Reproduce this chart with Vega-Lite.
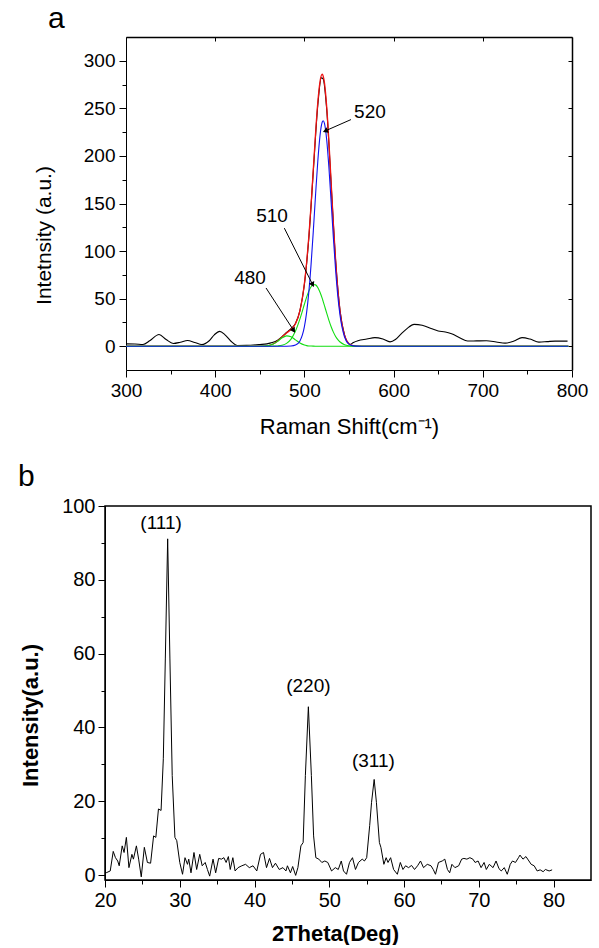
{
  "$schema": "https://vega.github.io/schema/vega-lite/v6.json",
  "padding": {"left": 17, "top": 3, "right": 0, "bottom": 0},
  "background": "white",
  "config": {
    "font": "Liberation Sans",
    "view": {"stroke": "#000", "strokeWidth": 1.5},
    "axis": {"grid": false, "domainColor": "#000", "tickColor": "#000", "labelColor": "#000", "titleColor": "#000", "labelFont": "Liberation Sans", "titleFont": "Liberation Sans", "domainWidth": 1, "tickWidth": 1},
    "title": {"font": "Liberation Sans", "color": "#000"}
  },
  "datasets": {
    "raman_exp": [
      {"shift": 300, "intensity": 2.5}, {"shift": 310, "intensity": 2.4}, {"shift": 319, "intensity": 1.8}, {"shift": 327, "intensity": 6}, {"shift": 337, "intensity": 12.3}, {"shift": 345, "intensity": 7}, {"shift": 353, "intensity": 2.9}, {"shift": 361, "intensity": 4.2}, {"shift": 369, "intensity": 6}, {"shift": 377, "intensity": 4}, {"shift": 385, "intensity": 1.8}, {"shift": 393, "intensity": 5.5}, {"shift": 399, "intensity": 12}, {"shift": 405, "intensity": 15.6}, {"shift": 411, "intensity": 12}, {"shift": 418, "intensity": 5}, {"shift": 425, "intensity": 0.8}, {"shift": 435, "intensity": 0.9}, {"shift": 450, "intensity": 1.8}, {"shift": 458, "intensity": 2.5}, {"shift": 464, "intensity": 3.8}, {"shift": 470, "intensity": 6.3}, {"shift": 475, "intensity": 10}, {"shift": 480, "intensity": 14.5}, {"shift": 485, "intensity": 18.5}, {"shift": 490, "intensity": 24}, {"shift": 495, "intensity": 37.5}, {"shift": 500, "intensity": 65}, {"shift": 505, "intensity": 114}, {"shift": 510, "intensity": 184}, {"shift": 515, "intensity": 253}, {"shift": 519, "intensity": 282}, {"shift": 521, "intensity": 281}, {"shift": 525, "intensity": 249}, {"shift": 530, "intensity": 170}, {"shift": 535, "intensity": 90}, {"shift": 540, "intensity": 37}, {"shift": 545, "intensity": 12}, {"shift": 548, "intensity": 4.5}, {"shift": 551, "intensity": 1.8}, {"shift": 555, "intensity": 4}, {"shift": 560, "intensity": 5.8}, {"shift": 570, "intensity": 7.5}, {"shift": 579, "intensity": 9}, {"shift": 588, "intensity": 7.5}, {"shift": 596, "intensity": 4.6}, {"shift": 602, "intensity": 7}, {"shift": 608, "intensity": 12.5}, {"shift": 615, "intensity": 18.5}, {"shift": 623, "intensity": 23}, {"shift": 632, "intensity": 22}, {"shift": 642, "intensity": 18.6}, {"shift": 650, "intensity": 16}, {"shift": 658, "intensity": 15}, {"shift": 665, "intensity": 13}, {"shift": 674, "intensity": 9}, {"shift": 683, "intensity": 5.5}, {"shift": 693, "intensity": 5.6}, {"shift": 704, "intensity": 5.7}, {"shift": 715, "intensity": 4.5}, {"shift": 725, "intensity": 3.2}, {"shift": 735, "intensity": 5.5}, {"shift": 744, "intensity": 9}, {"shift": 753, "intensity": 7.5}, {"shift": 763, "intensity": 4.3}, {"shift": 772, "intensity": 4.8}, {"shift": 781, "intensity": 5.4}, {"shift": 795, "intensity": 5.4}
    ],
    "raman_fit": [
      {"shift": 300, "total": 0, "g480": 0, "g510": 0, "g520": 0},
      {"shift": 440, "total": 0, "g480": 0, "g510": 0, "g520": 0},
      {"shift": 450, "total": 0.03, "g480": 0.03, "g510": 0, "g520": 0},
      {"shift": 455, "total": 0.17, "g480": 0.17, "g510": 0, "g520": 0},
      {"shift": 460, "total": 0.74, "g480": 0.72, "g510": 0.02, "g520": 0},
      {"shift": 465, "total": 2.35, "g480": 2.27, "g510": 0.08, "g520": 0},
      {"shift": 470, "total": 5.5, "g480": 5.2, "g510": 0.3, "g520": 0},
      {"shift": 475, "total": 9.8, "g480": 8.8, "g510": 1.0, "g520": 0},
      {"shift": 480, "total": 14.0, "g480": 10.9, "g510": 3.0, "g520": 0.02},
      {"shift": 485, "total": 17.6, "g480": 10.0, "g510": 7.5, "g520": 0.2},
      {"shift": 490, "total": 23.7, "g480": 6.7, "g510": 15.9, "g520": 1.2},
      {"shift": 495, "total": 37.5, "g480": 3.3, "g510": 28.7, "g520": 5.6},
      {"shift": 500, "total": 65.9, "g480": 1.2, "g510": 44.1, "g520": 20.6},
      {"shift": 502.5, "total": 87.8, "g480": 0.6, "g510": 51.6, "g520": 35.6},
      {"shift": 505, "total": 115.6, "g480": 0.3, "g510": 57.9, "g520": 57.4},
      {"shift": 507.5, "total": 149, "g480": 0.15, "g510": 62.5, "g520": 86.3},
      {"shift": 510, "total": 186.1, "g480": 0.06, "g510": 64.8, "g520": 121.2},
      {"shift": 512.5, "total": 223.4, "g480": 0.02, "g510": 64.5, "g520": 158.9},
      {"shift": 515, "total": 256, "g480": 0, "g510": 61.8, "g520": 194.2},
      {"shift": 517.5, "total": 278.2, "g480": 0, "g510": 56.8, "g520": 221.4},
      {"shift": 520, "total": 285.9, "g480": 0, "g510": 50.2, "g520": 235.7},
      {"shift": 521, "total": 284.2, "g480": 0, "g510": 47.2, "g520": 237},
      {"shift": 522.5, "total": 276.7, "g480": 0, "g510": 42.6, "g520": 234.1},
      {"shift": 525, "total": 251.6, "g480": 0, "g510": 34.7, "g520": 216.9},
      {"shift": 527.5, "total": 214.7, "g480": 0, "g510": 27.2, "g520": 187.5},
      {"shift": 530, "total": 171.8, "g480": 0, "g510": 20.5, "g520": 151.3},
      {"shift": 532.5, "total": 128.6, "g480": 0, "g510": 14.8, "g520": 113.8},
      {"shift": 535, "total": 90.3, "g480": 0, "g510": 10.3, "g520": 80.0},
      {"shift": 537.5, "total": 59.3, "g480": 0, "g510": 6.9, "g520": 52.4},
      {"shift": 540, "total": 36.5, "g480": 0, "g510": 4.4, "g520": 32.1},
      {"shift": 545, "total": 11.4, "g480": 0, "g510": 1.6, "g520": 9.7},
      {"shift": 550, "total": 2.7, "g480": 0, "g510": 0.5, "g520": 2.2},
      {"shift": 555, "total": 0.5, "g480": 0, "g510": 0.1, "g520": 0.4},
      {"shift": 560, "total": 0.1, "g480": 0, "g510": 0.03, "g520": 0.05},
      {"shift": 570, "total": 0, "g480": 0, "g510": 0, "g520": 0},
      {"shift": 796, "total": 0, "g480": 0, "g510": 0, "g520": 0}
    ],
    "raman_notes": [
      {"label": "480", "tx": 439, "ty": 71.9, "x1": 457, "y1": 61.2, "x2": 488, "y2": 16.5},
      {"label": "510", "tx": 463.7, "ty": 136.4, "x1": 477.5, "y1": 124.1, "x2": 509.3, "y2": 64.7},
      {"label": "520", "tx": 573.5, "ty": 246.1, "x1": 552.2, "y1": 238.2, "x2": 523.4, "y2": 226.3}
    ],
    "xrd": [
      {"tt": 20.15, "i": 0.6}, {"tt": 20.7, "i": 1.1}, {"tt": 21.1, "i": 6.4}, {"tt": 21.4, "i": 4.7}, {"tt": 21.7, "i": 3.8}, {"tt": 21.9, "i": 2.5}, {"tt": 22.3, "i": 7.9}, {"tt": 22.55, "i": 6.1}, {"tt": 22.86, "i": 10.2}, {"tt": 23.2, "i": 2.0}, {"tt": 23.6, "i": 5.6}, {"tt": 23.8, "i": 4.3}, {"tt": 24.2, "i": 7.9}, {"tt": 24.5, "i": 4.3}, {"tt": 24.85, "i": -0.5}, {"tt": 25.26, "i": 7.5}, {"tt": 25.67, "i": 3.4}, {"tt": 26.1, "i": 3.2}, {"tt": 26.5, "i": 10.6}, {"tt": 26.8, "i": 10.2}, {"tt": 27.15, "i": 17.9}, {"tt": 27.5, "i": 17.5}, {"tt": 27.8, "i": 31.5}, {"tt": 28.07, "i": 58.8}, {"tt": 28.38, "i": 91.1}, {"tt": 28.68, "i": 58.8}, {"tt": 28.99, "i": 27}, {"tt": 29.35, "i": 10.2}, {"tt": 29.6, "i": 9.3}, {"tt": 30.0, "i": 3.4}, {"tt": 30.37, "i": 0.2}, {"tt": 30.7, "i": 4.7}, {"tt": 31.03, "i": 2.9}, {"tt": 31.2, "i": 4.3}, {"tt": 31.5, "i": 0.6}, {"tt": 31.9, "i": 6.1}, {"tt": 32.26, "i": 1.5}, {"tt": 32.67, "i": 5.6}, {"tt": 33.0, "i": 2.5}, {"tt": 33.4, "i": 3.4}, {"tt": 33.7, "i": 1.5}, {"tt": 34.0, "i": -0.3}, {"tt": 34.45, "i": 4.3}, {"tt": 34.8, "i": 0.6}, {"tt": 35.2, "i": 4.5}, {"tt": 35.58, "i": 4.3}, {"tt": 35.9, "i": 4.7}, {"tt": 36.2, "i": 3.4}, {"tt": 36.5, "i": 5.0}, {"tt": 36.75, "i": 1.5}, {"tt": 37.1, "i": 4.7}, {"tt": 37.4, "i": 1.1}, {"tt": 37.8, "i": 2.0}, {"tt": 38.3, "i": 2.5}, {"tt": 38.8, "i": 2.9}, {"tt": 39.3, "i": 2.0}, {"tt": 39.8, "i": 2.5}, {"tt": 40.3, "i": 1.1}, {"tt": 40.8, "i": 5.6}, {"tt": 41.2, "i": 6.1}, {"tt": 41.6, "i": 2.0}, {"tt": 42.0, "i": 4.5}, {"tt": 42.4, "i": 2.0}, {"tt": 42.8, "i": 3.2}, {"tt": 43.3, "i": 1.5}, {"tt": 43.8, "i": 2.0}, {"tt": 44.2, "i": 1.1}, {"tt": 44.4, "i": 2.5}, {"tt": 44.8, "i": 0.6}, {"tt": 45.1, "i": 2.3}, {"tt": 45.5, "i": -0.1}, {"tt": 45.8, "i": 2.0}, {"tt": 46.2, "i": 7.9}, {"tt": 46.5, "i": 8.8}, {"tt": 46.8, "i": 27}, {"tt": 47.2, "i": 45.6}, {"tt": 47.6, "i": 27}, {"tt": 47.9, "i": 10.6}, {"tt": 48.2, "i": 4.7}, {"tt": 48.6, "i": 4.3}, {"tt": 49.0, "i": 3.4}, {"tt": 49.4, "i": 3.8}, {"tt": 49.8, "i": 3.4}, {"tt": 50.3, "i": 1.1}, {"tt": 50.8, "i": 2.0}, {"tt": 51.2, "i": 1.5}, {"tt": 51.6, "i": 3.8}, {"tt": 51.9, "i": 1.1}, {"tt": 52.3, "i": 0.2}, {"tt": 52.7, "i": 3.4}, {"tt": 53.1, "i": 4.7}, {"tt": 53.5, "i": 1.5}, {"tt": 53.9, "i": 3.4}, {"tt": 54.4, "i": 4.3}, {"tt": 54.7, "i": 3.8}, {"tt": 55.0, "i": 4.7}, {"tt": 55.4, "i": 13.4}, {"tt": 55.65, "i": 19.7}, {"tt": 56.0, "i": 25.9}, {"tt": 56.3, "i": 19.7}, {"tt": 56.7, "i": 8.8}, {"tt": 56.9, "i": 7.5}, {"tt": 57.3, "i": 2.9}, {"tt": 57.6, "i": 4.7}, {"tt": 57.85, "i": 3.4}, {"tt": 58.2, "i": 4.7}, {"tt": 58.6, "i": 1.5}, {"tt": 59.1, "i": 0.2}, {"tt": 59.5, "i": 3.4}, {"tt": 59.85, "i": 1.5}, {"tt": 60.2, "i": 2.5}, {"tt": 60.6, "i": 2.0}, {"tt": 61.0, "i": 2.6}, {"tt": 61.4, "i": 1.5}, {"tt": 61.8, "i": 2.5}, {"tt": 62.2, "i": 3.8}, {"tt": 62.6, "i": 2.0}, {"tt": 63.1, "i": 2.9}, {"tt": 63.6, "i": 2.5}, {"tt": 63.9, "i": 1.5}, {"tt": 64.2, "i": 0.2}, {"tt": 64.6, "i": 3.4}, {"tt": 65.1, "i": 3.8}, {"tt": 65.45, "i": 4.3}, {"tt": 65.8, "i": 1.5}, {"tt": 66.1, "i": 0.6}, {"tt": 66.4, "i": 2.9}, {"tt": 66.8, "i": 2.0}, {"tt": 67.3, "i": 2.5}, {"tt": 67.7, "i": 4.3}, {"tt": 68.0, "i": 4.5}, {"tt": 68.4, "i": 4.3}, {"tt": 68.8, "i": 4.7}, {"tt": 69.2, "i": 4.3}, {"tt": 69.5, "i": 3.4}, {"tt": 69.9, "i": 3.8}, {"tt": 70.3, "i": 2.0}, {"tt": 70.7, "i": 3.4}, {"tt": 71.0, "i": 1.5}, {"tt": 71.4, "i": 2.9}, {"tt": 71.9, "i": 2.0}, {"tt": 72.3, "i": 3.8}, {"tt": 72.7, "i": 1.7}, {"tt": 73.0, "i": 1.1}, {"tt": 73.4, "i": 2.0}, {"tt": 73.8, "i": 0.2}, {"tt": 74.2, "i": 2.9}, {"tt": 74.5, "i": 3.8}, {"tt": 74.9, "i": 3.4}, {"tt": 75.3, "i": 4.7}, {"tt": 75.5, "i": 5.4}, {"tt": 75.9, "i": 4.3}, {"tt": 76.3, "i": 5.0}, {"tt": 76.7, "i": 3.8}, {"tt": 77.0, "i": 2.9}, {"tt": 77.4, "i": 2.5}, {"tt": 77.8, "i": 1.1}, {"tt": 78.2, "i": 1.4}, {"tt": 78.6, "i": 0.9}, {"tt": 78.9, "i": 1.5}, {"tt": 79.4, "i": 1.1}, {"tt": 79.8, "i": 1.4}
    ],
    "xrd_peaks": [
      {"tt": 27.5, "i": 95.3, "label": "(111)"},
      {"tt": 47.2, "i": 51.1, "label": "(220)"},
      {"tt": 55.9, "i": 30.8, "label": "(311)"}
    ]
  },
  "columns": 1,
  "spacing": 24,
  "concat": [
    {
      "width": 467,
      "height": 333,
      "view": {"stroke": null},
      "title": {"text": "a", "anchor": "start", "frame": "group", "dx": -57, "fontSize": 30, "fontWeight": "normal", "offset": 3},
      "resolve": {"axis": {"x": "independent", "y": "independent"}},
      "layer": [
        {
          "data": {"name": "raman_exp"},
          "mark": {"type": "line", "color": "#000", "strokeWidth": 1.1, "interpolate": "monotone"},
          "encoding": {
            "x": {"field": "shift", "type": "quantitative", "scale": {"domain": [300, 800], "range": [21, 467], "nice": false, "zero": false},
              "axis": {"orient": "bottom", "title": "Raman Shift(cm\u207b\u00b9)", "values": [300, 400, 500, 600, 700, 800], "tickSize": 7, "labelFontSize": 19, "labelPadding": 4, "titleFontSize": 22, "titleFontWeight": "normal", "titlePadding": 16, "labelFlush": false}},
            "y": {"field": "intensity", "type": "quantitative", "scale": {"domain": [-25, 325], "nice": false, "zero": false},
              "axis": {"orient": "left", "offset": -21, "title": "Intetnsity (a.u.)", "titleY": 198, "values": [0, 50, 100, 150, 200, 250, 300], "tickSize": 7, "labelFontSize": 19, "labelPadding": 4, "titleFontSize": 21, "titleFontWeight": "normal", "titlePadding": 29}}
          }
        },
        {
          "data": {"name": "raman_fit"},
          "mark": {"type": "line", "color": "#ee1111", "strokeWidth": 1.3, "interpolate": "monotone"},
          "encoding": {
            "x": {"field": "shift", "type": "quantitative", "scale": {"domain": [300, 800], "range": [21, 467], "nice": false, "zero": false},
              "axis": {"orient": "bottom", "title": null, "values": [350, 450, 550, 650, 750], "tickSize": 4, "labels": false, "domain": false}},
            "y": {"field": "total", "type": "quantitative", "scale": {"domain": [-25, 325], "nice": false, "zero": false},
              "axis": {"orient": "left", "offset": -21, "title": null, "values": [25, 75, 125, 175, 225, 275], "tickSize": 4, "labels": false, "domain": false}}
          }
        },
        {
          "data": {"name": "raman_fit"},
          "mark": {"type": "line", "color": "#11dd11", "strokeWidth": 1.1, "interpolate": "monotone"},
          "encoding": {
            "x": {"field": "shift", "type": "quantitative", "scale": {"domain": [300, 800], "range": [21, 467], "nice": false, "zero": false},
              "axis": {"orient": "top", "title": null, "values": [300, 400, 500, 600, 700, 800], "tickSize": -4, "labels": false, "domainWidth": 1.5}},
            "y": {"field": "g480", "type": "quantitative", "scale": {"domain": [-25, 325], "nice": false, "zero": false},
              "axis": {"orient": "right", "title": null, "values": [0, 50, 100, 150, 200, 250, 300], "tickSize": -4, "labels": false, "domainWidth": 1.5}}
          }
        },
        {
          "data": {"name": "raman_fit"},
          "mark": {"type": "line", "color": "#11dd11", "strokeWidth": 1.1, "interpolate": "monotone"},
          "encoding": {
            "x": {"field": "shift", "type": "quantitative", "scale": {"domain": [300, 800], "range": [21, 467], "nice": false, "zero": false}, "axis": null},
            "y": {"field": "g510", "type": "quantitative", "scale": {"domain": [-25, 325], "nice": false, "zero": false}, "axis": null}
          }
        },
        {
          "data": {"name": "raman_fit"},
          "mark": {"type": "line", "color": "#1111ee", "strokeWidth": 1.1, "interpolate": "monotone"},
          "encoding": {
            "x": {"field": "shift", "type": "quantitative", "scale": {"domain": [300, 800], "range": [21, 467], "nice": false, "zero": false}, "axis": null},
            "y": {"field": "g520", "type": "quantitative", "scale": {"domain": [-25, 325], "nice": false, "zero": false}, "axis": null}
          }
        },
        {
          "data": {"name": "raman_notes"},
          "mark": {"type": "rule", "color": "#000", "strokeWidth": 1},
          "encoding": {
            "x": {"field": "x1", "type": "quantitative", "scale": {"domain": [300, 800], "range": [21, 467], "nice": false, "zero": false}, "axis": null},
            "y": {"field": "y1", "type": "quantitative", "scale": {"domain": [-25, 325], "nice": false, "zero": false}, "axis": null},
            "x2": {"field": "x2"},
            "y2": {"field": "y2"}
          }
        },
        {
          "data": {"name": "raman_notes"},
          "transform": [{"filter": "datum.label === '480'"}],
          "mark": {"type": "point", "shape": "triangle-up", "angle": 147, "filled": true, "color": "#000", "size": 35, "opacity": 1},
          "encoding": {
            "x": {"field": "x2", "type": "quantitative", "scale": {"domain": [300, 800], "range": [21, 467], "nice": false, "zero": false}, "axis": null},
            "y": {"field": "y2", "type": "quantitative", "scale": {"domain": [-25, 325], "nice": false, "zero": false}, "axis": null}
          }
        },
        {
          "data": {"name": "raman_notes"},
          "transform": [{"filter": "datum.label === '510'"}],
          "mark": {"type": "point", "shape": "triangle-up", "angle": 153, "filled": true, "color": "#000", "size": 35, "opacity": 1},
          "encoding": {
            "x": {"field": "x2", "type": "quantitative", "scale": {"domain": [300, 800], "range": [21, 467], "nice": false, "zero": false}, "axis": null},
            "y": {"field": "y2", "type": "quantitative", "scale": {"domain": [-25, 325], "nice": false, "zero": false}, "axis": null}
          }
        },
        {
          "data": {"name": "raman_notes"},
          "transform": [{"filter": "datum.label === '520'"}],
          "mark": {"type": "point", "shape": "triangle-up", "angle": 247, "filled": true, "color": "#000", "size": 35, "opacity": 1},
          "encoding": {
            "x": {"field": "x2", "type": "quantitative", "scale": {"domain": [300, 800], "range": [21, 467], "nice": false, "zero": false}, "axis": null},
            "y": {"field": "y2", "type": "quantitative", "scale": {"domain": [-25, 325], "nice": false, "zero": false}, "axis": null}
          }
        },
        {
          "data": {"name": "raman_notes"},
          "mark": {"type": "text", "color": "#000", "fontSize": 19, "font": "Liberation Sans", "align": "center", "baseline": "middle"},
          "encoding": {
            "x": {"field": "tx", "type": "quantitative", "scale": {"domain": [300, 800], "range": [21, 467], "nice": false, "zero": false}, "axis": null},
            "y": {"field": "ty", "type": "quantitative", "scale": {"domain": [-25, 325], "nice": false, "zero": false}, "axis": null},
            "text": {"field": "label"}
          }
        }
      ]
    },
    {
      "width": 486,
      "height": 374,
      "title": {"text": "b", "anchor": "start", "frame": "group", "dx": -87, "fontSize": 30, "fontWeight": "normal", "offset": 4},
      "resolve": {"axis": {"x": "independent", "y": "independent"}},
      "layer": [
        {
          "data": {"name": "xrd"},
          "mark": {"type": "line", "color": "#000", "strokeWidth": 1},
          "encoding": {
            "x": {"field": "tt", "type": "quantitative", "scale": {"domain": [20, 85], "nice": false, "zero": false},
              "axis": {"orient": "bottom", "title": "2Theta(Deg)", "titleX": 230, "values": [20, 30, 40, 50, 60, 70, 80], "tickSize": 7, "labelFontSize": 20, "labelPadding": 3, "titleFontSize": 22, "titleFontWeight": "bold", "titlePadding": 13, "labelFlush": false}},
            "y": {"field": "i", "type": "quantitative", "scale": {"domain": [-1.35, 100], "nice": false, "zero": false},
              "axis": {"orient": "left", "title": "Intensity(a.u.)", "titleY": 209, "values": [0, 20, 40, 60, 80, 100], "tickSize": 7, "labelFontSize": 20, "labelPadding": 3, "titleFontSize": 22, "titleFontWeight": "bold", "titlePadding": 19, "labelFlush": false}}
          }
        },
        {
          "data": {"name": "xrd_peaks"},
          "mark": {"type": "text", "color": "#000", "fontSize": 19, "font": "Liberation Sans", "align": "center", "baseline": "middle"},
          "encoding": {
            "x": {"field": "tt", "type": "quantitative", "scale": {"domain": [20, 85], "nice": false, "zero": false},
              "axis": {"orient": "bottom", "title": null, "values": [25, 35, 45, 55, 65, 75], "tickSize": 4, "labels": false, "domain": false}},
            "y": {"field": "i", "type": "quantitative", "scale": {"domain": [-1.35, 100], "nice": false, "zero": false},
              "axis": {"orient": "left", "title": null, "values": [10, 30, 50, 70, 90], "tickSize": 4, "labels": false, "domain": false}},
            "text": {"field": "label"}
          }
        }
      ]
    }
  ]
}
